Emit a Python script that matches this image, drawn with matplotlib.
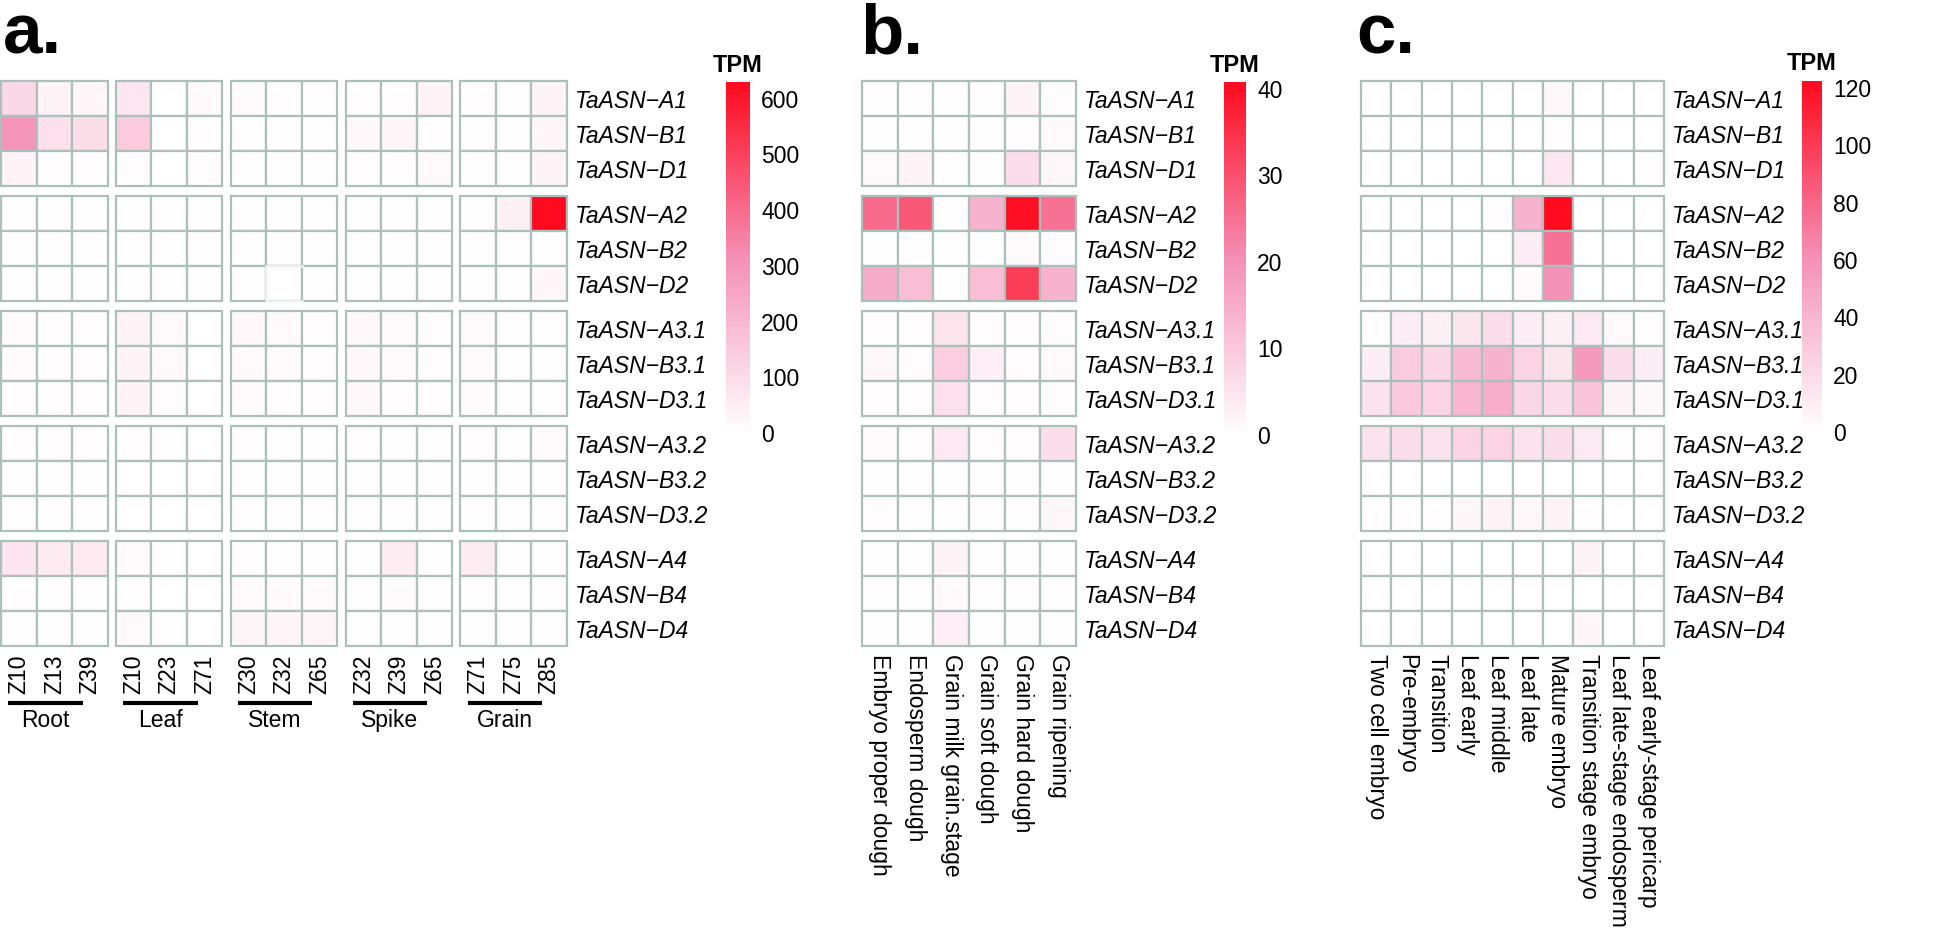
import numpy as np
import matplotlib
matplotlib.use('Agg')
import matplotlib.pyplot as plt
from matplotlib.colors import LinearSegmentedColormap, Normalize
from matplotlib.patches import Rectangle
import matplotlib.cm as cm

plt.rcParams['font.family'] = ['Liberation Sans', 'DejaVu Sans']

genes = ['TaASN\u2212A1', 'TaASN\u2212B1', 'TaASN\u2212D1',
         'TaASN\u2212A2', 'TaASN\u2212B2', 'TaASN\u2212D2',
         'TaASN\u2212A3.1', 'TaASN\u2212B3.1', 'TaASN\u2212D3.1',
         'TaASN\u2212A3.2', 'TaASN\u2212B3.2', 'TaASN\u2212D3.2',
         'TaASN\u2212A4', 'TaASN\u2212B4', 'TaASN\u2212D4']

# ---- panel a: tissues x Zadoks stages (TPM) ----
tissues_a = ['Root', 'Leaf', 'Stem', 'Spike', 'Grain']
stages_a = [['Z10', 'Z13', 'Z39'], ['Z10', 'Z23', 'Z71'], ['Z30', 'Z32', 'Z65'],
            ['Z32', 'Z39', 'Z65'], ['Z71', 'Z75', 'Z85']]
root_tpm = [[110, 35, 25], [300, 85, 95], [30, 5, 5],
            [3, 3, 3], [3, 3, 3], [3, 3, 3],
            [12, 5, 8], [14, 5, 8], [6, 5, 5],
            [5, 5, 5], [3, 3, 3], [3, 3, 3],
            [75, 60, 60], [5, 3, 3], [3, 3, 3]]
leaf_tpm = [[70, 2, 15], [150, 2, 5], [8, 2, 8],
            [3, 3, 3], [3, 3, 3], [3, 3, 3],
            [30, 15, 2], [35, 15, 2], [30, 8, 2],
            [5, 3, 2], [2, 2, 2], [2, 2, 2],
            [10, 3, 2], [3, 2, 2], [18, 3, 2]]
stem_tpm = [[12, 5, 3], [3, 3, 3], [3, 3, 3],
            [3, 3, 3], [3, 3, 3], [3, np.nan, 3],
            [20, 15, 8], [15, 10, 5], [10, 5, 5],
            [5, 3, 3], [3, 3, 3], [3, 3, 3],
            [5, 3, 3], [15, 15, 15], [28, 28, 28]]
spike_tpm = [[5, 5, 35], [20, 25, 5], [5, 5, 15],
             [3, 3, 3], [3, 3, 3], [3, 3, 3],
             [20, 15, 8], [20, 15, 8], [20, 5, 5],
             [5, 3, 3], [3, 3, 3], [3, 3, 3],
             [3, 55, 3], [3, 10, 3], [3, 3, 3]]
grain_tpm = [[5, 3, 35], [3, 3, 25], [3, 3, 30],
             [3, 40, 630], [3, 3, 3], [3, 3, 25],
             [15, 3, 3], [15, 3, 3], [10, 3, 3],
             [5, 3, 12], [3, 3, 3], [3, 3, 3],
             [55, 3, 3], [3, 3, 3], [3, 3, 3]]

# ---- panel b: grain developmental samples (TPM) ----
samples_b = ['Embryo proper dough', 'Endosperm dough', 'Grain milk grain.stage',
             'Grain soft dough', 'Grain hard dough', 'Grain ripening']
tpm_b = [[0.3, 0.3, 0.3, 0.3, 2.0, 0.5],
         [0.2, 0.2, 0.2, 0.2, 0.5, 1.0],
         [1.0, 2.0, 0.2, 0.3, 6.0, 1.5],
         [26, 29, 0.3, 14, 40, 25],
         [0.3, 0.3, 0.3, 0.3, 1.0, 0.5],
         [15, 12, 0.3, 12, 33, 14],
         [0.5, 0.5, 5.0, 0.5, 0.5, 0.5],
         [1.5, 0.5, 9.0, 3.0, 0.5, 1.0],
         [0.5, 0.5, 5.5, 0.5, 0.5, 0.5],
         [1.0, 0.5, 4.0, 0.5, 0.5, 6.0],
         [0.2, 0.2, 0.2, 0.2, 0.2, 0.2],
         [0.5, 0.3, 0.3, 0.3, 0.3, 1.5],
         [0.3, 0.3, 2.0, 0.3, 0.3, 0.3],
         [0.3, 0.3, 1.0, 0.3, 0.3, 0.3],
         [0.3, 0.3, 3.0, 0.3, 0.3, 0.3]]

# ---- panel c: embryo / endosperm samples (TPM) ----
samples_c = ['Two cell embryo', 'Pre-embryo', 'Transition', 'Leaf early', 'Leaf middle',
             'Leaf late', 'Mature embryo', 'Transition stage embryo',
             'Leaf late-stage endosperm', 'Leaf early-stage pericarp']
tpm_c = [[0, 0, 0, 0, 0, 0, 4, 0, 0, 0],
         [0, 0, 0, 0, 0, 0, 1, 0, 0, 0],
         [0, 0, 0, 0, 0, 0, 13, 0, 0, 1],
         [0, 0, 0, 0, 1, 42, 122, 0, 0, 0],
         [0, 0, 0, 0, 0, 10, 75, 0, 0, 0],
         [0, 0, 0, 0, 0, 2, 60, 0, 0, 0],
         [1, 10, 8, 14, 18, 10, 8, 12, 3, 1],
         [10, 28, 22, 38, 42, 24, 14, 55, 18, 10],
         [16, 30, 24, 40, 44, 22, 18, 32, 6, 4],
         [16, 18, 16, 24, 24, 16, 18, 12, 1, 1],
         [0, 0, 0, 0, 0, 0, 0, 0, 0, 0],
         [1, 1, 1, 5, 7, 4, 7, 1, 0, 0],
         [0, 0, 0, 0, 0, 0, 0, 6, 0, 0],
         [0, 0, 0, 0, 0, 0, 0, 0, 0, 0],
         [0, 0, 0, 0, 0, 0, 0, 5, 0, 0]]

cmap = LinearSegmentedColormap.from_list('tpm', ['#FFFFFF', '#F48FB6', '#FF0A1E'])
grid_col = '#ABC0BB'
W, H = 1947, 930
FS = 16.5

fig = plt.figure(figsize=(W / 100, H / 100), dpi=100)


def px_axes(x0, x1, y0, y1):
    return fig.add_axes([x0 / W, 1 - y1 / H, (x1 - x0) / W, (y1 - y0) / H])


def draw_heat(ax, vals, col_groups, vmax, gx, gy, xlabels, xrot):
    vals = np.asarray(vals, dtype=float)
    nrow, ncol = vals.shape
    norm = Normalize(0, vmax)
    grp = np.repeat(np.arange(len(col_groups)), col_groups)
    xs = np.arange(ncol) + grp * gx
    ys = np.arange(nrow) + (np.arange(nrow) // 3) * gy
    for i in range(nrow):
        for j in range(ncol):
            v = vals[i, j]
            fc = 'white' if np.isnan(v) else cmap(norm(v))
            ax.add_patch(Rectangle((xs[j], ys[i]), 1, 1, facecolor=fc,
                                   edgecolor=grid_col, lw=1.6, clip_on=False))
    # missing values: no border on top/left/bottom
    for i, j in zip(*np.where(np.isnan(vals))):
        x, y = xs[j], ys[i]
        ax.plot([x + 1, x, x, x + 1], [y, y, y + 1, y + 1], color='#F3F6F5',
                lw=1.8, clip_on=False, zorder=5)
    ax.set_xlim(0, ncol + (len(col_groups) - 1) * gx)
    ax.set_ylim(nrow + (nrow // 3 - 1) * gy, 0)
    for s in ax.spines.values():
        s.set_visible(False)
    ax.yaxis.tick_right()
    ax.set_yticks(ys + 0.5)
    ax.set_yticklabels(genes, style='italic', fontsize=FS)
    ax.set_xticks(xs + 0.5)
    ax.set_xticklabels(xlabels, rotation=xrot, ha='center', va='top', fontsize=FS)
    ax.tick_params(length=0, pad=6)
    return xs


def add_cbar(x0, x1, y0, y1, vmax, ticks):
    cax = px_axes(x0, x1, y0, y1)
    cb = fig.colorbar(cm.ScalarMappable(Normalize(0, vmax), cmap), cax=cax)
    cb.outline.set_visible(False)
    cb.set_ticks(ticks)
    cax.tick_params(length=0, pad=8, labelsize=FS)
    fig.text((x0 + x1) / 2 / W, 1 - (y0 - 17) / H, 'TPM', fontsize=17,
             weight='bold', ha='center', va='center')


# panel a
ax_a = px_axes(1, 567, 81, 646)
vals_a = np.hstack([root_tpm, leaf_tpm, stem_tpm, spike_tpm, grain_tpm])
xs_a = draw_heat(ax_a, vals_a, [3] * 5, 630, 8.3 / 35.7, 10 / 35,
                 sum(stages_a, []), 90)
tr = ax_a.get_xaxis_transform()
for g, name in enumerate(tissues_a):
    b0 = xs_a[3 * g]
    ax_a.plot([b0 + 0.2, b0 + 2.3], [-0.1, -0.1], color='black', lw=3,
              transform=tr, clip_on=False, solid_capstyle='butt')
    ax_a.text(b0 + 1.25, -0.132, name, transform=tr, ha='center', va='center',
              fontsize=FS)
add_cbar(726, 750, 82, 433, 630, np.arange(0, 601, 100))

# panel b
ax_b = px_axes(862, 1076, 81, 646)
draw_heat(ax_b, tpm_b, [6], 40.8, 0, 10 / 35, samples_b, 270)
add_cbar(1224, 1246, 82, 435, 40.8, np.arange(0, 41, 10))

# panel c
ax_c = px_axes(1361, 1664, 81, 646)
draw_heat(ax_c, tpm_c, [10], 122.4, 0, 10 / 35, samples_c, 270)
add_cbar(1802, 1822, 81, 432, 122.4, np.arange(0, 121, 20))

for lx, lab in [(3, 'a.'), (860, 'b.'), (1356, 'c.')]:
    fig.text(lx / W, 1 - 53 / H, lab, fontsize=51, weight='bold',
             ha='left', va='baseline')

fig.savefig('out.png', dpi=100, facecolor='white')
